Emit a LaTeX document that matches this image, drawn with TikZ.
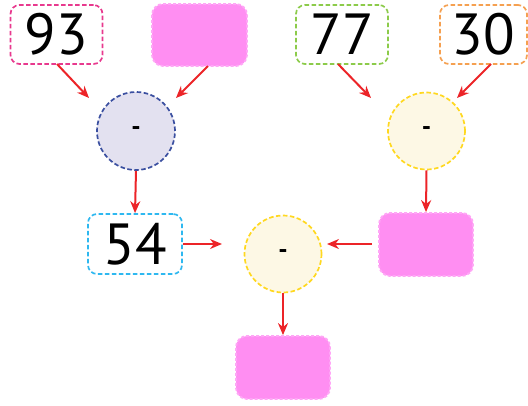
\documentclass[tikz,border=0pt]{standalone}
\usepackage{fontspec}
\setmainfont{PT Sans}
\usetikzlibrary{arrows.meta}
\definecolor{arrred}{HTML}{EC2428}
\definecolor{pinkfill}{HTML}{FF8EF2}
\definecolor{pinkedge}{HTML}{FFA6F6}
\definecolor{bmag}{HTML}{E8398E}
\definecolor{bgreen}{HTML}{8CCB4A}
\definecolor{borange}{HTML}{F5A050}
\definecolor{bblue}{HTML}{2EB8F0}
\definecolor{cblue}{HTML}{3A4FA0}
\definecolor{cbluefill}{HTML}{E3E1F0}
\definecolor{cyel}{HTML}{FFD820}
\definecolor{cyelfill}{HTML}{FDF8E5}
\begin{document}
\begin{tikzpicture}[x=1pt,y=-1pt,
  numbox/.style={draw, dashed, dash pattern=on 4.5pt off 2.5pt, line width=1.7pt, rounded corners=9pt,
    minimum width=92pt, minimum height=59pt, inner sep=0pt, font=\fontsize{58}{60}\selectfont, fill=white},
  blank/.style={fill=pinkfill, draw=pinkedge, dashed, dash pattern=on 3pt off 2pt, line width=1.8pt,
    rounded corners=11pt, minimum width=94pt, minimum height=62pt, inner sep=0pt},
  opc/.style={circle, draw, dashed, dash pattern=on 4.5pt off 2.5pt, line width=1.7pt, minimum size=77pt,
    inner sep=0pt, font=\fontsize{26}{28}\selectfont\bfseries},
  arr/.style={draw=arrred, line width=2pt, -{Stealth[length=12pt,width=10pt]}}]
\useasboundingbox (0,0) rectangle (528,405);
% top row
\node[numbox, draw=bmag] (n93) at (56.5,34.5) {93};
\node[blank, minimum width=95pt] (p1) at (199.5,35) {};
\node[numbox, draw=bgreen] (n77) at (342,34.5) {77};
\node[numbox, draw=borange, minimum width=87pt] (n30) at (483.5,34.5) {30};
% circles
\node[opc, draw=cblue, fill=cbluefill, minimum size=78pt] (c1) at (136,131) {-};
\node[opc, draw=cyel, fill=cyelfill] (c2) at (426.5,131) {-};
% middle row
\node[numbox, draw=bblue, minimum width=94pt, minimum height=60pt] (n54) at (135,244) {54};
\node[opc, draw=cyel, fill=cyelfill] (c3) at (283,254) {-};
\node[blank, minimum height=63pt] (p2) at (426,244.5) {};
% bottom
\node[blank, minimum height=63pt] (p3) at (283,367.5) {};
% arrow tips
\coordinate (t1) at (89,98);
\coordinate (t2) at (176,98);
\coordinate (t3) at (371,98);
\coordinate (t4) at (457,98);
\coordinate (t5) at (222,244);
\coordinate (t6) at (327,244);
\coordinate (s6) at (372,244);
% arrows
\draw[arr] (57,64) -- (t1);
\draw[arr] (208,66) -- (t2);
\draw[arr] (338,64) -- (t3);
\draw[arr] (491,64) -- (t4);
\draw[arr] (c1.south) -- (n54.north);
\draw[arr] (c2.south) -- (p2.north);
\draw[arr] (n54.east) -- (t5);
\draw[arr] (s6) -- (t6);
\draw[arr] (c3.south) -- (p3.north);
\end{tikzpicture}
\end{document}
